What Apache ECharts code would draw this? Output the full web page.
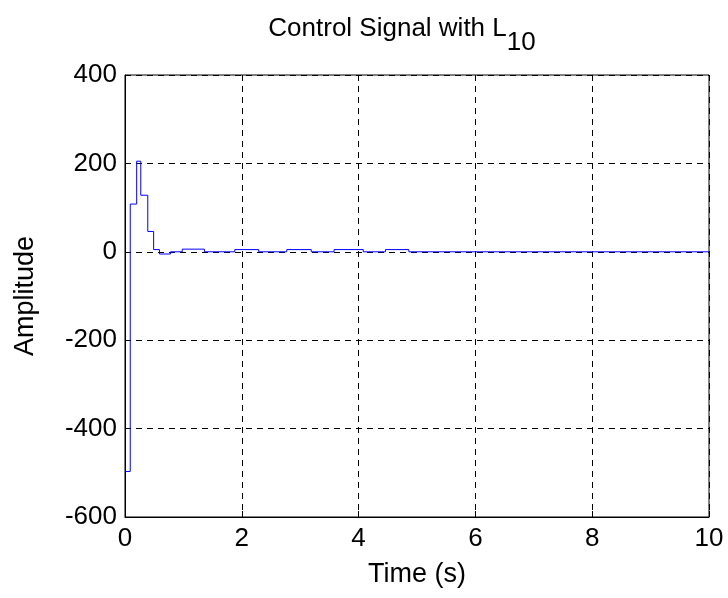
<!DOCTYPE html>
<html>
<head>
<meta charset="utf-8">
<script src="https://cdn.jsdelivr.net/npm/echarts@6/dist/echarts.min.js"></script>
<style>
  html, body { margin: 0; padding: 0; background: #fff; }
  #chart { width: 728px; height: 598px; }
</style>
</head>
<body>
<div id="chart"></div>
<script>
// Zero-order-hold control signal: each value holds from its sample time until the next one.
const sampleTimes = [0, 0.09, 0.2, 0.27, 0.39, 0.49, 0.59, 0.78, 0.98, 1.36, 1.88, 2.29, 2.77, 3.19, 3.58, 4.08, 4.46, 4.86, 10];
const sampleValues = [-497, 108, 205, 128, 46, 5, -5, 0, 6, 0, 5, 0, 5, 0, 5, 0, 5, 0, 0];
const xTicks = { min: 0, max: 10, interval: 2 };
const yTicks = { min: -600, max: 400, interval: 200 };

const FONT = 'Liberation Sans, Arial, sans-serif';
const FS = 26;

const chart = echarts.init(document.getElementById('chart'), null, { renderer: 'canvas' });

const points = sampleTimes.map((t, i) => [t, sampleValues[i]]);

chart.setOption({
  animation: false,
  backgroundColor: '#ffffff',
  title: {
    text: '{m|Control Signal with L}{s|10}',
    left: 397,
    top: 11,
    textAlign: 'center',
    textStyle: {
      fontWeight: 'normal',
      rich: {
        m: { fontFamily: FONT, fontSize: 26, fontWeight: 'normal', color: '#000', verticalAlign: 'top', lineHeight: 30 },
        s: { fontFamily: FONT, fontSize: 26, fontWeight: 'normal', color: '#000', verticalAlign: 'top', lineHeight: 30, padding: [14, 0, 0, 0] }
      }
    }
  },
  grid: {
    left: 125, top: 75, width: 584, height: 442,
    show: true, borderColor: '#000', borderWidth: 1, backgroundColor: 'transparent'
  },
  xAxis: {
    type: 'value',
    min: xTicks.min, max: xTicks.max, interval: xTicks.interval,
    name: 'Time (s)',
    nameLocation: 'middle',
    nameGap: 44,
    nameTextStyle: { fontFamily: FONT, fontSize: 27, color: '#000' },
    axisLine: { show: true, onZero: false, lineStyle: { color: '#000', width: 1 } },
    axisTick: { show: true, inside: true, length: 6, lineStyle: { color: '#000' } },
    axisLabel: { fontFamily: FONT, fontSize: FS, color: '#000', margin: 9 },
    splitLine: { show: true, lineStyle: { color: '#000', width: 1, type: [6, 5] } }
  },
  yAxis: {
    type: 'value',
    min: yTicks.min, max: yTicks.max, interval: yTicks.interval,
    name: 'Amplitude',
    nameLocation: 'middle',
    nameGap: 86,
    nameRotate: 90,
    nameTextStyle: { fontFamily: FONT, fontSize: 27, color: '#000' },
    axisLine: { show: true, lineStyle: { color: '#000', width: 1 } },
    axisTick: { show: true, inside: true, length: 6, lineStyle: { color: '#000' } },
    axisLabel: { fontFamily: FONT, fontSize: FS, color: '#000', margin: 8 },
    splitLine: { show: true, lineStyle: { color: '#000', width: 1, type: [6, 5] } }
  },
  series: [{
    type: 'line',
    data: points,
    step: 'end',
    showSymbol: false,
    symbol: 'none',
    lineStyle: { color: '#0000ff', width: 1 },
    clip: true
  }]
});
</script>
</body>
</html>
